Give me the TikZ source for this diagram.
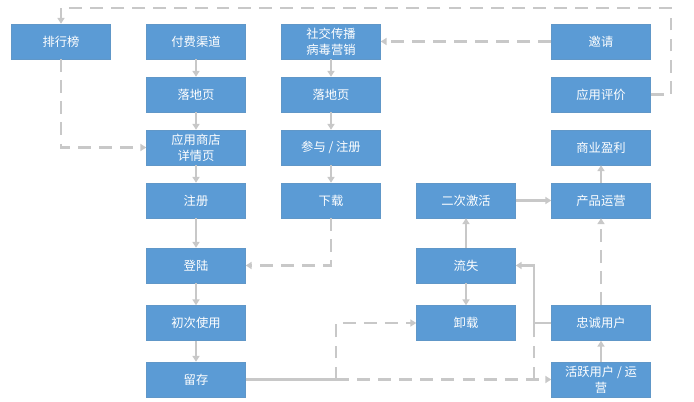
\documentclass[tikz,border=0pt]{standalone}
\usepackage{fontspec}
\setmainfont{Noto Sans CJK SC}
\usetikzlibrary{positioning,calc,arrows.meta}
\definecolor{boxblue}{HTML}{5B9BD5}
\definecolor{linegray}{HTML}{C8C8C8}

\begin{document}
\begin{tikzpicture}[x=0.03cm,y=-0.03cm,
		box/.style={minimum width=2.97cm,minimum height=1.05cm,fill=boxblue,draw=boxblue!85!gray,text=white,align=center,inner sep=1pt,font=\fontsize{10.5}{13.5}\selectfont},
		link/.style={draw=linegray,line width=1.8pt},
		flow/.style={link,-{Triangle[width=6pt,length=5pt]}},
		dashflow/.style={flow,dash pattern=on 11pt off 7pt}]
		\useasboundingbox (0,0) rectangle (694,402);
		\node[box] (rank) at (61,41.5) {排行榜};
		\node[box] (paid) at (196,41.5) {付费渠道};
		\node[box] (land1) at (196,94.5) {落地页};
		\node[box] (store) at (196,147.5) {应用商店\\详情页};
		\node[box] (reg) at (196,200.5) {注册};
		\node[box] (login) at (196,265.5) {登陆};
		\node[box] (first) at (196,323) {初次使用};
		\node[box] (keep) at (196,379.5) {留存};
		\node[box] (social) at (331,41.5) {社交传播\\病毒营销};
		\node[box] (land2) at (331,94.5) {落地页};
		\node[box] (join) at (331,147.5) {参与 / 注册};
		\node[box] (down) at (331,200.5) {下载};
		\node[box] (react) at (466,200.5) {二次激活};
		\node[box] (lost) at (466,265.5) {流失};
		\node[box] (uninst) at (466,323) {卸载};
		\node[box] (invite) at (601,41.5) {邀请};
		\node[box] (review) at (601,94.5) {应用评价};
		\node[box] (profit) at (601,147.5) {商业盈利};
		\node[box] (ops) at (601,200.5) {产品运营};
		\node[box] (loyal) at (601,323) {忠诚用户};
		\node[box] (active) at (601,379.5) {活跃用户 / 运\\营};
		
		\coordinate (topR) at (671,8);
		\coordinate (topL) at (61,8);
		\coordinate (split) at (336,379.5);
		\coordinate (turn) at (534,323);
		\coordinate (branch) at (534,379.5);
		
		\draw[flow] (paid)--(land1);
		\draw[flow] (land1)--(store);
		\draw[flow] (store)--(reg);
		\draw[flow] (reg)--(login);
		\draw[flow] (login)--(first);
		\draw[flow] (first)--(keep);
		\draw[flow] (social)--(land2);
		\draw[flow] (land2)--(join);
		\draw[flow] (join)--(down);
		\draw[dashflow] (rank.south) |- (store.west);
		\draw[dashflow] (review.east) -| (topR) -- (topL) -- (rank.north);
		\draw[dashflow] (invite)--(social);
		\draw[dashflow] (down.south) |- (login.east);
		\draw[link] (keep.east)--(split);
		\draw[dashflow] (split) |- (uninst.west);
		\draw[dashflow] (split)--(active.west);
		\draw[flow] (lost)--(react);
		\draw[flow] (lost)--(uninst);
		\draw[flow] (react)--(ops);
		\draw[flow] (ops)--(profit);
		\draw[dashflow] (loyal)--(ops);
		\draw[flow] (active)--(loyal);
		\draw[flow] (loyal.west)--(turn) |- (lost.east);
		\draw[link,dash pattern=on 11pt off 7pt] (branch)--(turn);
	\end{tikzpicture}
\end{document}
